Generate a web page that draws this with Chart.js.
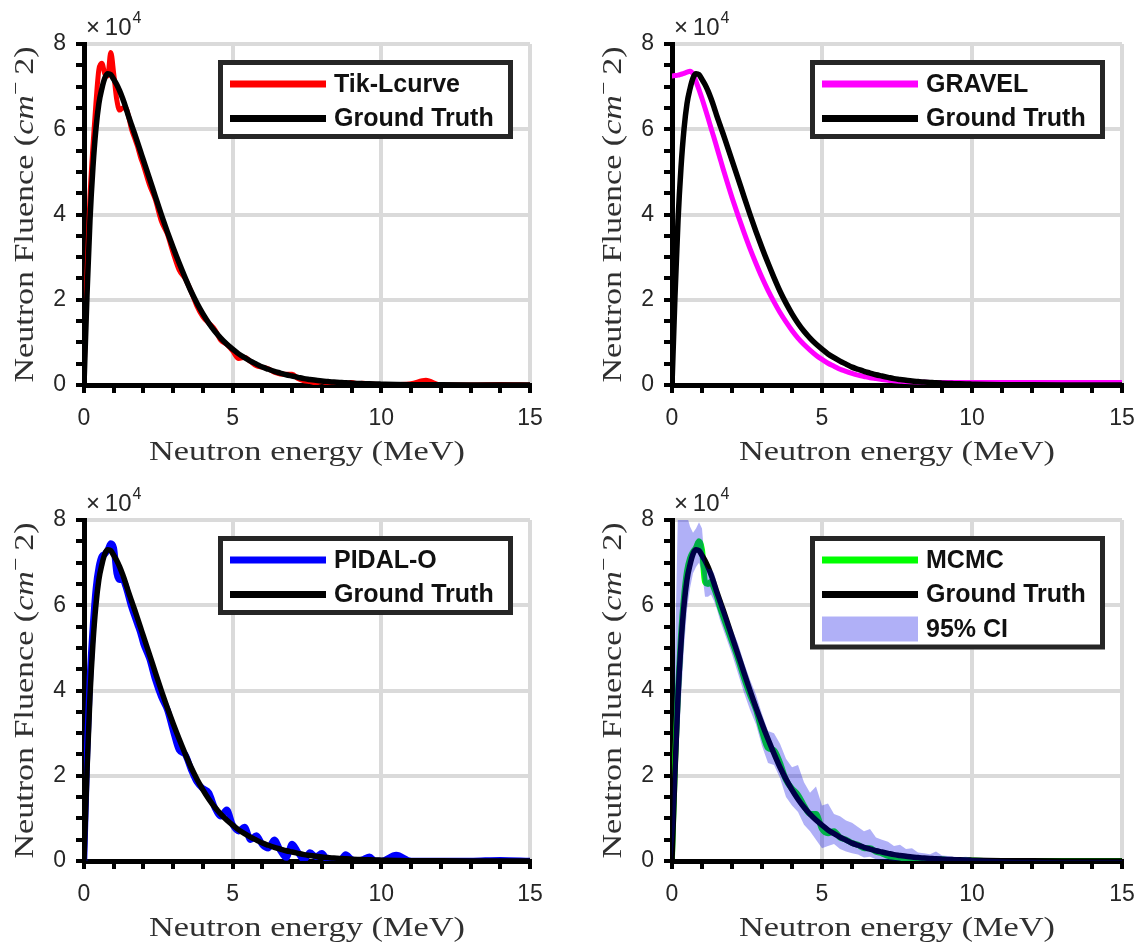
<!DOCTYPE html>
<html>
<head>
<meta charset="utf-8">
<title>Neutron spectrum unfolding</title>
<script src="https://cdn.jsdelivr.net/npm/chart.js@4.4.1/dist/chart.umd.min.js"></script>
<style>
  html, body { margin: 0; padding: 0; background: #fff; }
  #fig { position: relative; width: 1148px; height: 947px; overflow: hidden; }
  #fig canvas { position: absolute; }
</style>
</head>
<body>
<div id="fig">
  <canvas id="tik" width="574" height="473" style="left:0;top:0"></canvas>
  <canvas id="gravel" width="574" height="473" style="left:574px;top:0"></canvas>
  <canvas id="pidal" width="574" height="474" style="left:0;top:473px"></canvas>
  <canvas id="mcmc" width="574" height="474" style="left:574px;top:473px"></canvas>
</div>
<script>
// energy grid in MeV, shared by every spectrum below
const energy = [
  0, 0.1, 0.2, 0.3, 0.4, 0.5, 0.6, 0.7, 0.8, 0.9,
  1.0, 1.1, 1.2, 1.3, 1.4, 1.5, 1.6, 1.7, 1.8, 1.9,
  2.0, 2.2, 2.4, 2.6, 2.8, 3.0, 3.2, 3.4, 3.6, 3.8,
  4.0, 4.2, 4.4, 4.6, 4.8, 5.0, 5.2, 5.4, 5.6, 5.8,
  6.0, 6.2, 6.4, 6.6, 6.8, 7.0, 7.2, 7.4, 7.6, 7.8,
  8.0, 8.2, 8.4, 8.6, 8.8, 9.0, 9.2, 9.4, 9.6, 9.8,
  10, 10.5, 11, 11.5, 12, 13, 14, 15
];

// fluence, in units of 1e4 cm^-2
const groundTruth = [
  0, 2.1, 3.85, 5.1, 6.0, 6.6, 6.95, 7.2, 7.3, 7.28,
  7.17, 7.05, 6.9, 6.72, 6.52, 6.3, 6.1, 5.9, 5.69, 5.48,
  5.27, 4.85, 4.42, 4.0, 3.6, 3.22, 2.86, 2.52, 2.2, 1.92,
  1.67, 1.45, 1.26, 1.1, 0.96, 0.84, 0.73, 0.64, 0.56, 0.49,
  0.42, 0.37, 0.32, 0.28, 0.24, 0.21, 0.18, 0.15, 0.13, 0.11,
  0.095, 0.08, 0.07, 0.06, 0.05, 0.043, 0.037, 0.032, 0.027, 0.023,
  0.02, 0.013, 0.008, 0.005, 0.003, 0.001, 0.0005, 0.0002
];

const tikLcurve = [
  0.2, 2.6, 4.4, 5.6, 6.6, 7.4, 7.55, 7.3, 7.25, 7.8,
  7.3, 6.7, 6.45, 6.5, 6.5, 6.3, 6.0, 5.8, 5.6, 5.35,
  5.15, 4.7, 4.35, 3.85, 3.55, 3.1, 2.7, 2.5, 2.2, 1.85,
  1.6, 1.45, 1.3, 1.05, 0.95, 0.8, 0.62, 0.65, 0.55, 0.45,
  0.42, 0.38, 0.3, 0.26, 0.25, 0.25, 0.15, 0.1, 0.08, 0.05,
  0.08, 0.04, 0.03, 0.05, 0.02, 0.06, 0.03, 0.04, 0.02, 0.02,
  0.0, 0.01, 0.03, 0.11, 0.0, 0.0, 0.01, 0.0
];

const gravel = [
  7.25, 7.26, 7.27, 7.29, 7.31, 7.34, 7.36, 7.3, 7.12, 6.93,
  6.72, 6.5, 6.27, 6.03, 5.8, 5.56, 5.32, 5.08, 4.85, 4.62,
  4.4, 3.98, 3.58, 3.2, 2.85, 2.52, 2.22, 1.95, 1.7, 1.48,
  1.28, 1.1, 0.95, 0.82, 0.7, 0.6, 0.51, 0.44, 0.37, 0.32,
  0.27, 0.23, 0.2, 0.17, 0.15, 0.13, 0.11, 0.1, 0.09, 0.08,
  0.075, 0.07, 0.065, 0.06, 0.06, 0.06, 0.06, 0.06, 0.06, 0.06,
  0.06, 0.06, 0.06, 0.06, 0.06, 0.06, 0.06, 0.06
];

const pidalO = [
  0, 2.5, 4.3, 5.5, 6.4, 6.9, 7.15, 7.2, 7.3, 7.45,
  7.35, 6.75, 6.6, 6.6, 6.45, 6.2, 5.95, 5.75, 5.55, 5.35,
  5.1, 4.75, 4.25, 3.85, 3.55, 3.05, 2.6, 2.5, 2.15, 1.85,
  1.7, 1.6, 1.25, 1.05, 1.2, 0.85, 0.7, 0.8, 0.5, 0.6,
  0.38, 0.3, 0.5, 0.25, 0.08, 0.4, 0.2, 0.03, 0.2, 0.1,
  0.18, 0.02, 0.04, 0.0, 0.15, 0.04, 0.0, 0.04, 0.1, 0.0,
  0.0, 0.14, 0.0, 0.0, 0.0, 0.0, 0.02, 0.0
];

const mcmcMean = [
  0.1, 2.3, 4.0, 5.3, 6.2, 6.8, 7.1, 7.25, 7.35, 7.5,
  7.3, 6.55, 6.5, 6.55, 6.4, 6.2, 5.95, 5.75, 5.55, 5.35,
  5.15, 4.75, 4.3, 3.9, 3.55, 3.05, 2.65, 2.6, 2.3, 1.9,
  1.7, 1.55, 1.3, 1.1, 1.1, 0.75, 0.65, 0.7, 0.55, 0.5,
  0.42, 0.38, 0.3, 0.3, 0.22, 0.18, 0.12, 0.1, 0.08, 0.06,
  0.07, 0.05, 0.04, 0.04, 0.03, 0.04, 0.02, 0.02, 0.01, 0.01,
  0.01, 0.0, 0.0, 0.0, 0.0, 0.0, 0.0, 0.0
];

// 95% credible interval of the MCMC posterior
const mcmcLower = [
  0, 0.8, 2.4, 3.8, 5.0, 5.9, 6.4, 6.75, 6.9, 7.0,
  6.8, 6.2, 6.2, 6.25, 6.1, 5.9, 5.65, 5.45, 5.25, 5.05,
  4.85, 4.4, 3.95, 3.55, 3.2, 2.7, 2.3, 2.25, 1.95, 1.5,
  1.3, 1.15, 0.85, 0.7, 0.5, 0.3, 0.35, 0.4, 0.28, 0.22,
  0.18, 0.15, 0.08, 0.1, 0.04, 0.03, 0.02, 0, 0, 0,
  0, 0, 0, 0, 0, 0, 0, 0, 0, 0,
  0, 0, 0, 0, 0, 0, 0, 0
];

const mcmcUpper = [
  0.6, 4.8, 8.3, 8.5, 8.4, 8.1, 7.85, 7.7, 7.8, 7.95,
  7.8, 6.95, 6.85, 6.85, 6.75, 6.5, 6.25, 6.05, 5.85, 5.65,
  5.45, 5.1, 4.65, 4.25, 3.9, 3.45, 3.05, 3.0, 2.75, 2.4,
  2.2, 2.25, 1.85, 1.6, 1.75, 1.3, 1.35, 1.1, 1.05, 0.95,
  0.9, 0.8, 0.7, 0.75, 0.55, 0.5, 0.45, 0.35, 0.38, 0.28,
  0.3, 0.2, 0.18, 0.16, 0.22, 0.13, 0.12, 0.1, 0.09, 0.1,
  0.07, 0.05, 0.04, 0.03, 0.03, 0.02, 0.02, 0.02
];

const xTickLabels = [0, 5, 10, 15];
const yTickLabels = [0, 2, 4, 6, 8];

const SANS = "'Liberation Sans', Arial, Helvetica, sans-serif";
const SERIF = "'Liberation Serif', 'Times New Roman', serif";
const INK = '#262626';
const GRID = '#dadada';
const CLEAR = 'rgba(0,0,0,0)';

const panels = [
  { id: 'tik', pad: { top: 44, right: 44, yAxis: 84, xAxis: 88 },
    curves: [['Tik-Lcurve', tikLcurve, '#ff0000', 5], ['Ground Truth', groundTruth, '#000000', 5.5]] },
  { id: 'gravel', pad: { top: 44, right: 26, yAxis: 98, xAxis: 88 },
    curves: [['GRAVEL', gravel, '#ff00ff', 5], ['Ground Truth', groundTruth, '#000000', 5.5]] },
  { id: 'pidal', pad: { top: 47, right: 44, yAxis: 84, xAxis: 86 },
    curves: [['PIDAL-O', pidalO, '#0000ff', 6.5], ['Ground Truth', groundTruth, '#000000', 5.5]] },
  { id: 'mcmc', pad: { top: 47, right: 26, yAxis: 98, xAxis: 86 },
    curves: [['MCMC', mcmcMean, '#00ff00', 6], ['Ground Truth', groundTruth, '#000000', 5.5]],
    band: ['95% CI', mcmcLower, mcmcUpper, 'rgba(0,0,230,0.31)'] }
];

function points(values) {
  return energy.map((e, i) => ({ x: e, y: values[i] }));
}

function buildDatasets(p) {
  const n = p.curves.length + (p.band ? 1 : 0);
  const sets = p.curves.map(([label, values, color, width], i) => ({
    label,
    data: points(values),
    borderColor: color,
    backgroundColor: color,
    borderWidth: width,
    borderJoinStyle: 'round',
    borderCapStyle: 'round',
    cubicInterpolationMode: 'monotone',
    pointRadius: 0,
    fill: false,
    order: n - 1 - i,   // later legend entries sit on top
    swatch: 'line'
  }));
  if (p.band) {
    const [label, lo, hi, color] = p.band;
    sets.push({
      label, data: points(hi), borderWidth: 0, borderColor: CLEAR,
      backgroundColor: color, pointRadius: 0, tension: 0, fill: '+1', order: 0, swatch: 'patch'
    });
    sets.push({
      label: '', data: points(lo), borderWidth: 0, borderColor: CLEAR,
      backgroundColor: color, pointRadius: 0, tension: 0, fill: false, order: 0
    });
  }
  return sets;
}

// draws a run of differently styled serif text, stretched to a given width
function serifLabel(ctx, parts, cx, cy, angle, width) {
  const size = 28;
  const fontOf = style => style === 'italic' ? `italic ${size}px ${SERIF}`
    : style === 'sup' ? `${size * 0.7}px ${SERIF}` : `${size}px ${SERIF}`;
  let total = 0;
  const widths = parts.map(([text, style]) => {
    ctx.font = fontOf(style);
    const w = ctx.measureText(text).width;
    total += w;
    return w;
  });
  ctx.save();
  ctx.translate(cx, cy);
  ctx.rotate(angle);
  ctx.scale(width / total, 1);
  ctx.fillStyle = '#303030';
  ctx.textBaseline = 'middle';
  ctx.textAlign = 'left';
  let x = -total / 2;
  parts.forEach(([text, style], i) => {
    ctx.font = fontOf(style);
    ctx.fillText(text, x, style === 'sup' ? -9 : 0);
    x += widths[i];
  });
  ctx.restore();
}

const panelDecor = {
  id: 'panelDecor',
  afterDraw(chart) {
    const { ctx, chartArea: a } = chart;
    ctx.save();

    // axis multiplier
    ctx.fillStyle = INK;
    ctx.textAlign = 'left';
    ctx.textBaseline = 'alphabetic';
    ctx.font = `24px ${SANS}`;
    ctx.fillText('\u00d7\u200910', a.left + 2, a.top - 9);
    const mw = ctx.measureText('\u00d7\u200910').width;
    ctx.font = `16px ${SANS}`;
    ctx.fillText('4', a.left + 3 + mw, a.top - 21);

    // axis titles
    serifLabel(ctx, [['Neutron energy (MeV)', '']], (a.left + a.right) / 2, a.bottom + 68, 0, 316);
    serifLabel(ctx, [['Neutron Fluence (', ''], ['cm', 'italic'], ['\u2212', 'sup'], ['\u20092)', '']],
      a.left - 58, (a.top + a.bottom) / 2, -Math.PI / 2, 336);

    // legend box
    const items = chart.data.datasets.filter(d => d.swatch);
    const rowH = 34.5, boxW = 295, boxH = 10 + rowH * items.length;
    const bx = a.right - 17 - boxW, by = a.top + 16;
    ctx.fillStyle = '#fff';
    ctx.fillRect(bx, by, boxW, boxH);
    ctx.strokeStyle = INK;
    ctx.lineWidth = 5;
    ctx.strokeRect(bx + 2.5, by + 2.5, boxW - 5, boxH - 5);
    items.forEach((d, i) => {
      const y = by + 24 + i * rowH;
      if (d.swatch === 'line') {
        ctx.strokeStyle = d.borderColor;
        ctx.lineWidth = 7;
        ctx.lineCap = 'butt';
        ctx.beginPath();
        ctx.moveTo(bx + 12, y);
        ctx.lineTo(bx + 108, y);
        ctx.stroke();
      } else {
        ctx.fillStyle = d.backgroundColor;
        ctx.fillRect(bx + 12, y - 12.5, 96, 25);
      }
      ctx.fillStyle = '#111';
      ctx.font = `bold 25px ${SANS}`;
      ctx.textBaseline = 'middle';
      ctx.fillText(d.label, bx + 116, y + 1);
    });
    ctx.restore();
  }
};

function axis(min, max, step, labels, pad, horizontal) {
  const isLabel = v => labels.some(l => Math.abs(l - v) < 1e-9);
  return {
    type: 'linear',
    min, max,
    afterFit: s => { if (horizontal) s.height = pad.xAxis; else s.width = pad.yAxis; },
    ticks: {
      stepSize: step,
      autoSkip: false,
      maxRotation: 0,
      padding: horizontal ? 12 : 10,
      color: INK,
      font: { family: SANS, size: 23 },
      callback: v => (isLabel(v) ? String(v) : '')
    },
    grid: {
      color: c => (c.tick && isLabel(c.tick.value) ? GRID : CLEAR),
      lineWidth: 4,
      tickColor: '#000',
      tickWidth: 4,
      tickLength: 8
    },
    border: { color: '#000', width: 5 }
  };
}

panels.forEach(p => {
  new Chart(document.getElementById(p.id), {
    type: 'line',
    data: { datasets: buildDatasets(p) },
    options: {
      responsive: false,
      animation: false,
      devicePixelRatio: 1,
      layout: { padding: { top: p.pad.top, right: p.pad.right, left: 0, bottom: 0 } },
      plugins: { legend: { display: false }, tooltip: { enabled: false } },
      scales: {
        x: axis(0, 15, 1, xTickLabels, p.pad, true),
        y: axis(0, 8, 0.5, yTickLabels, p.pad, false)
      }
    },
    plugins: [panelDecor]
  });
});
</script>
</body>
</html>
